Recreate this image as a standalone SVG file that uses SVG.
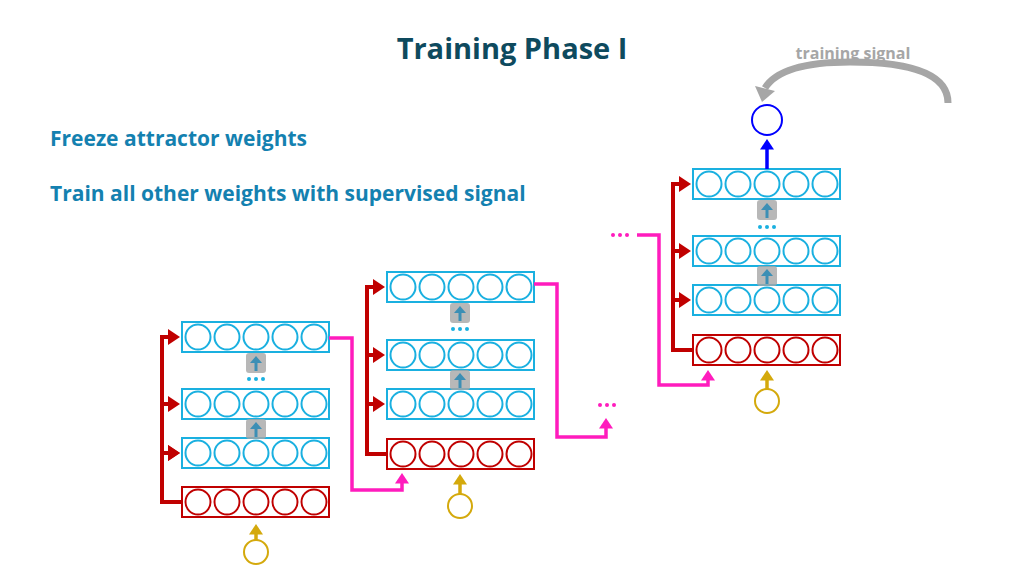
<svg xmlns="http://www.w3.org/2000/svg" width="1024" height="576" viewBox="0 0 1024 576">
<style>
.t{font-family:"Open Sans","Liberation Sans",sans-serif;font-weight:bold}
.b{fill:none;stroke:#1ab0e0;stroke-width:2}
.r{fill:none;stroke:#c00000;stroke-width:2}
.bus{fill:none;stroke:#c00000;stroke-width:4}
.mg{fill:none;stroke:#ff1cbd;stroke-width:3.5}
.gy{fill:#a6a6a6;opacity:.8}
</style>
<defs>
<marker id="ar" markerWidth="4" markerHeight="4" refX="1" refY="2" orient="auto" markerUnits="strokeWidth"><path d="M0,0L3,2L0,4z" fill="#c00000"/></marker>
<marker id="am" markerWidth="4" markerHeight="4" refX="1" refY="2" orient="auto" markerUnits="strokeWidth"><path d="M0,0L3,2L0,4z" fill="#ff1cbd"/></marker>
<marker id="ay" markerWidth="4" markerHeight="4" refX="1" refY="2" orient="auto" markerUnits="strokeWidth"><path d="M0,0L3,2L0,4z" fill="#d4a90c"/></marker>
<marker id="ab" markerWidth="4" markerHeight="4" refX="1" refY="2" orient="auto" markerUnits="strokeWidth"><path d="M0,0L3,2L0,4z" fill="#0000ff"/></marker>
<g id="rowB"><rect x="0" y="0" width="147" height="30" class="b"/><g class="b"><circle cx="16" cy="15" r="12.5"/><circle cx="45" cy="15" r="12.5"/><circle cx="74" cy="15" r="12.5"/><circle cx="103" cy="15" r="12.5"/><circle cx="132" cy="15" r="12.5"/></g></g>
<g id="rowR"><rect x="0" y="0" width="147" height="30" class="r"/><g class="r"><circle cx="16" cy="15" r="12.5"/><circle cx="45" cy="15" r="12.5"/><circle cx="74" cy="15" r="12.5"/><circle cx="103" cy="15" r="12.5"/><circle cx="132" cy="15" r="12.5"/></g></g>
<g id="frz"><rect x="-10" y="0" width="20" height="20" rx="3" class="gy"/><path d="M0,18V8" stroke="#3c8fb5" stroke-width="3"/><path d="M-6,10L0,3L6,10z" fill="#3c8fb5"/></g>
<g id="dots" fill="#1ab0e0"><circle cx="-7" cy="0" r="2"/><circle cx="0" cy="0" r="2"/><circle cx="7" cy="0" r="2"/></g>
</defs>
<text class="t" x="512" y="59" font-size="29" fill="#0e4a5e" text-anchor="middle">Training Phase I</text>
<text class="t" x="853" y="59" font-size="16" fill="#a6a6a6" text-anchor="middle">training signal</text>
<text class="t" x="50" y="146" font-size="21" fill="#1481b0">Freeze attractor weights</text>
<text class="t" x="50" y="201" font-size="21" fill="#1481b0">Train all other weights with supervised signal</text>
<path d="M948,103C948,70 900,62 850,62C800,62 775,72 765,88" fill="none" stroke="#a6a6a6" stroke-width="7"/>
<path d="M755,86L762,102L775,91z" fill="#a6a6a6"/>
<g id="stack1">
<use href="#rowB" x="182" y="322"/><use href="#rowB" x="182" y="389"/><use href="#rowB" x="182" y="438"/><use href="#rowR" x="182" y="487"/>
<use href="#frz" x="256" y="353"/><use href="#dots" x="256" y="379"/><use href="#frz" x="256" y="419"/>
<circle cx="256" cy="552" r="12" fill="none" stroke="#d4a90c" stroke-width="2"/>
</g>
<g id="stack2">
<use href="#rowB" x="387" y="272"/><use href="#rowB" x="387" y="340"/><use href="#rowB" x="387" y="389"/><use href="#rowR" x="387" y="439"/>
<use href="#frz" x="460" y="303"/><use href="#dots" x="460" y="329"/><use href="#frz" x="460" y="370"/>
<circle cx="460" cy="506" r="12" fill="none" stroke="#d4a90c" stroke-width="2"/>
</g>
<g id="stack3">
<use href="#rowB" x="693" y="169"/><use href="#rowB" x="693" y="236"/><use href="#rowB" x="693" y="285"/><use href="#rowR" x="693" y="335"/>
<use href="#frz" x="767" y="200"/><use href="#dots" x="767" y="227"/><use href="#frz" x="767" y="266"/>
<circle cx="767" cy="401" r="12" fill="none" stroke="#d4a90c" stroke-width="2"/>
<circle cx="767" cy="120" r="15" fill="none" stroke="#0000ff" stroke-width="2"/>
</g>
<g id="connectors">
<path class="bus" d="M182,502H162V337H172M162,404H172M162,453H172" marker-end="url(#ar)"/>
<path class="bus" d="M162,337H172" marker-end="url(#ar)"/><path class="bus" d="M162,404H172" marker-end="url(#ar)"/><path class="bus" d="M162,453H172" marker-end="url(#ar)"/>
<path class="bus" d="M387,454H367V287H377"/>
<path class="bus" d="M367,287H377" marker-end="url(#ar)"/><path class="bus" d="M367,355H377" marker-end="url(#ar)"/><path class="bus" d="M367,404H377" marker-end="url(#ar)"/>
<path class="bus" d="M693,350H673V184H683"/>
<path class="bus" d="M673,184H683" marker-end="url(#ar)"/><path class="bus" d="M673,251H683" marker-end="url(#ar)"/><path class="bus" d="M673,300H683" marker-end="url(#ar)"/>
<path class="mg" d="M329,338H352V490H402V480" marker-end="url(#am)"/>
<path class="mg" d="M534,284H557V437H606V425" marker-end="url(#am)"/>
<path class="mg" d="M637,235H659V385H708V377" marker-end="url(#am)"/>
<g fill="#ff1cbd"><circle cx="600" cy="405" r="2"/><circle cx="607" cy="405" r="2"/><circle cx="614" cy="405" r="2"/><circle cx="613" cy="235" r="2"/><circle cx="620" cy="235" r="2"/><circle cx="627" cy="235" r="2"/></g>
<path d="M256,541V531" stroke="#d4a90c" stroke-width="3.5" marker-end="url(#ay)"/>
<path d="M460,494V481" stroke="#d4a90c" stroke-width="3.5" marker-end="url(#ay)"/>
<path d="M767,389V377" stroke="#d4a90c" stroke-width="3.5" marker-end="url(#ay)"/>
<path d="M767,169V146" stroke="#0000ff" stroke-width="3.5" marker-end="url(#ab)"/>
</g>
</svg>
